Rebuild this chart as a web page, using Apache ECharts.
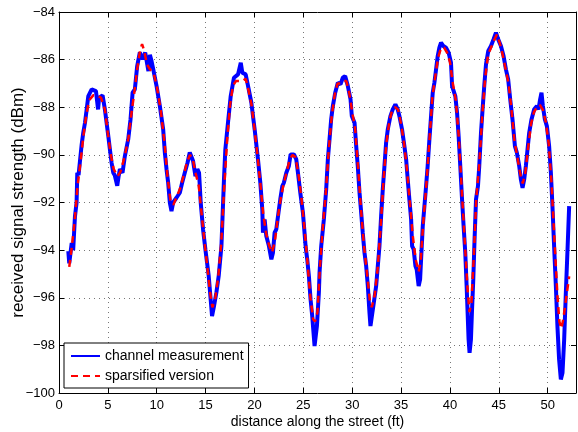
<!DOCTYPE html>
<html>
<head>
<meta charset="utf-8">
<script src="https://cdn.jsdelivr.net/npm/echarts@6/dist/echarts.min.js"></script>
<style>
  html, body { margin: 0; padding: 0; background: #fff; }
  #chart { width: 578px; height: 432px; }
</style>
</head>
<body>
<div id="chart"></div>
<script>
const measX = [0.95, 1.05, 1.3, 1.45, 1.63, 1.8, 1.87, 2.0, 2.15, 2.32, 2.48, 2.66, 2.83, 3.0, 3.34, 3.5, 3.78, 4.0, 4.1, 4.19, 4.46, 4.7, 4.87, 5.04, 5.21, 5.38, 5.55, 5.7, 5.89, 5.96, 6.1, 6.23, 6.5, 6.74, 7.08, 7.32, 7.53, 7.76, 8.0, 8.27, 8.55, 8.82, 9.02, 9.15, 9.3, 9.47, 9.64, 9.98, 10.32, 10.66, 10.83, 11.0, 11.17, 11.34, 11.51, 11.68, 12.02, 12.36, 12.6, 12.87, 13.15, 13.38, 13.72, 13.96, 14.16, 14.33, 14.5, 14.74, 14.98, 15.15, 15.32, 15.49, 15.66, 15.86, 16.1, 16.34, 16.62, 16.88, 17.02, 17.29, 17.57, 17.9, 18.1, 18.32, 18.6, 18.76, 19.1, 19.34, 19.68, 20.02, 20.36, 20.6, 20.8, 20.87, 21.04, 21.21, 21.48, 21.73, 21.89, 22.06, 22.23, 22.5, 22.64, 22.85, 23.01, 23.26, 23.52, 23.7, 24.04, 24.28, 24.45, 24.69, 24.96, 25.23, 25.4, 25.57, 25.74, 25.91, 26.15, 26.39, 26.59, 26.66, 26.83, 27.1, 27.34, 27.51, 27.68, 27.85, 28.02, 28.26, 28.53, 28.8, 29.04, 29.28, 29.55, 29.83, 29.96, 30.24, 30.41, 30.57, 30.75, 30.92, 31.08, 31.26, 31.43, 31.6, 31.77, 31.87, 32.04, 32.21, 32.45, 32.62, 32.79, 32.96, 33.13, 33.3, 33.47, 33.64, 33.91, 34.15, 34.42, 34.66, 34.83, 35.1, 35.34, 35.52, 35.68, 35.85, 36.03, 36.13, 36.29, 36.47, 36.6, 36.8, 36.95, 37.05, 37.22, 37.39, 37.56, 37.72, 37.9, 38.07, 38.24, 38.41, 38.58, 38.75, 38.92, 39.09, 39.33, 39.6, 39.87, 40.11, 40.22, 40.38, 40.55, 40.73, 40.89, 41.06, 41.24, 41.4, 41.57, 41.71, 41.81, 41.91, 42.01, 42.15, 42.25, 42.39, 42.52, 42.67, 42.87, 43.0, 43.18, 43.34, 43.51, 43.69, 43.92, 44.2, 44.46, 44.71, 44.94, 45.22, 45.49, 45.73, 45.96, 46.17, 46.4, 46.65, 46.85, 47.09, 47.26, 47.43, 47.6, 47.77, 47.94, 48.11, 48.35, 48.62, 48.9, 49.06, 49.23, 49.37, 49.51, 49.71, 49.92, 50.15, 50.33, 50.49, 50.66, 50.84, 51.0, 51.17, 51.35, 51.52, 51.69, 51.86, 52.02, 52.2]
const measY = [-94.04, -94.55, -93.7, -94.0, -92.6, -92.0, -90.75, -90.85, -90.9, -89.56, -89.07, -88.65, -88.09, -87.53, -87.25, -87.18, -87.32, -88.09, -87.6, -87.53, -87.5, -88.1, -88.65, -89.2, -89.77, -90.33, -90.75, -90.85, -90.9, -91.3, -90.9, -90.6, -90.75, -90.05, -89.35, -88.5, -87.39, -87.25, -86.27, -85.7, -85.99, -85.7, -85.78, -86.48, -85.8, -86.06, -86.4, -87.1, -87.95, -88.93, -89.9, -90.6, -91.17, -92.0, -92.36, -92.0, -91.8, -91.59, -91.17, -90.75, -90.33, -89.9, -90.26, -90.9, -90.6, -90.75, -92.0, -93.13, -93.97, -94.53, -95.09, -95.93, -96.77, -96.35, -95.79, -95.09, -93.83, -91.03, -89.77, -88.65, -87.53, -86.76, -86.7, -86.62, -86.13, -86.55, -86.62, -87.1, -87.8, -88.93, -90.19, -91.17, -92.29, -93.27, -92.71, -93.41, -93.83, -94.39, -94.11, -93.27, -93.13, -92.29, -91.87, -91.31, -91.17, -90.75, -90.47, -89.98, -89.98, -90.19, -90.75, -91.59, -92.43, -93.83, -94.39, -95.09, -96.07, -96.77, -98.03, -97.19, -95.79, -94.95, -93.83, -92.71, -91.45, -90.19, -89.35, -88.5, -87.95, -87.39, -86.97, -87.04, -86.76, -86.69, -87.1, -87.67, -88.37, -88.65, -89.63, -90.47, -91.59, -92.43, -93.27, -94.11, -94.67, -95.51, -96.63, -97.19, -97.19, -96.21, -95.51, -94.67, -93.83, -92.57, -91.45, -90.47, -89.49, -88.93, -88.37, -88.09, -87.88, -88.09, -88.37, -88.93, -89.63, -90.19, -91.03, -91.87, -92.71, -93.83, -93.97, -94.67, -94.81, -95.51, -95.23, -94.39, -92.99, -92.15, -91.31, -90.47, -89.35, -88.37, -87.39, -86.97, -86.41, -85.85, -85.5, -85.29, -85.43, -85.5, -85.71, -86.13, -87.11, -87.18, -87.53, -88.23, -89.21, -90.47, -91.87, -92.99, -94.11, -95.51, -96.63, -97.75, -98.31, -97.75, -96.63, -95.23, -93.55, -91.87, -91.31, -90.47, -89.07, -88.09, -87.11, -86.2, -85.64, -85.43, -85.15, -84.87, -85.15, -85.43, -85.85, -86.41, -86.83, -87.67, -88.5, -89.63, -89.91, -90.47, -91.03, -91.38, -91.03, -90.47, -89.77, -89.07, -88.5, -88.09, -87.95, -88.09, -87.67, -87.39, -87.95, -88.5, -88.79, -89.63, -90.75, -92.15, -93.83, -95.51, -97.19, -98.59, -99.43, -99.15, -97.75, -95.79, -94.11, -92.15]

// sparsified version (red dashed)
const sparseX = [1.05, 1.3, 1.6, 1.9, 2.2, 2.5, 2.8, 3.1, 3.5, 3.9, 4.3, 4.7, 5.0, 5.3, 5.6, 6.0, 6.3, 6.7, 7.1, 7.4, 7.7, 8.0, 8.3, 8.5, 8.7, 9.0, 9.3, 9.7, 10.0, 10.4, 10.8, 11.1, 11.4, 11.7, 12.0, 12.4, 12.8, 13.1, 13.4, 13.7, 14.0, 14.3, 14.6, 14.9, 15.2, 15.5, 15.7, 16.0, 16.3, 16.6, 16.9, 17.2, 17.5, 17.8, 18.1, 18.5, 18.8, 19.1, 19.4, 19.7, 20.0, 20.3, 20.6, 20.9, 21.2, 21.5, 21.8, 22.1, 22.4, 22.7, 23.0, 23.3, 23.6, 23.9, 24.2, 24.5, 24.8, 25.1, 25.4, 25.7, 26.0, 26.2, 26.45, 26.7, 27.0, 27.3, 27.6, 27.9, 28.2, 28.5, 28.8, 29.1, 29.4, 29.7, 30.0, 30.3, 30.6, 30.9, 31.2, 31.5, 31.8, 32.0, 32.3, 32.6, 32.9, 33.2, 33.5, 33.8, 34.1, 34.4, 34.7, 35.0, 35.3, 35.6, 35.9, 36.2, 36.5, 36.8, 37.0, 37.3, 37.6, 37.9, 38.2, 38.5, 38.8, 39.1, 39.4, 39.7, 40.0, 40.3, 40.6, 40.9, 41.2, 41.5, 41.8, 42.0, 42.2, 42.45, 42.7, 43.0, 43.3, 43.6, 43.9, 44.2, 44.5, 44.8, 45.1, 45.4, 45.7, 46.0, 46.3, 46.6, 46.9, 47.2, 47.45, 47.7, 48.0, 48.3, 48.6, 48.9, 49.2, 49.5, 49.8, 50.1, 50.4, 50.7, 51.0, 51.2, 51.4, 51.6, 51.9, 52.2]
const sparseY = [-94.7, -93.9, -92.8, -91.3, -90.3, -89.2, -88.3, -87.7, -87.5, -87.5, -87.6, -88.1, -89.1, -90.0, -90.6, -90.9, -90.7, -90.1, -89.3, -88.3, -87.4, -86.4, -85.6, -85.35, -85.6, -86.2, -86.4, -86.6, -87.1, -88.1, -89.5, -90.9, -91.9, -92.1, -91.8, -91.4, -90.8, -90.3, -90.0, -90.2, -90.8, -91.3, -92.5, -93.7, -94.8, -95.9, -96.4, -96.0, -95.1, -93.7, -91.4, -89.4, -87.9, -87.1, -86.9, -86.9, -86.9, -86.8, -87.3, -87.9, -88.9, -90.0, -91.2, -92.5, -93.3, -93.8, -94.1, -93.6, -92.6, -91.8, -91.2, -90.7, -90.2, -90.0, -90.1, -90.8, -91.8, -93.0, -94.4, -95.9, -96.9, -97.0, -96.6, -94.7, -93.0, -91.6, -89.8, -88.4, -87.5, -87.0, -87.0, -86.9, -86.9, -87.4, -88.2, -88.9, -90.5, -92.3, -93.8, -94.9, -96.1, -96.4, -95.9, -94.8, -93.1, -91.1, -89.5, -88.6, -88.1, -88.0, -88.1, -88.7, -89.5, -90.6, -92.0, -93.4, -94.4, -94.9, -94.5, -92.7, -91.2, -89.4, -87.6, -86.7, -85.9, -85.5, -85.5, -85.7, -86.1, -87.0, -87.7, -89.2, -91.4, -93.5, -95.6, -96.6, -96.2, -94.2, -91.8, -90.4, -88.4, -86.8, -85.8, -85.5, -85.2, -84.95, -85.3, -85.8, -86.4, -87.0, -88.1, -89.4, -90.1, -90.8, -91.2, -90.8, -89.7, -88.7, -88.2, -88.0, -87.9, -88.1, -88.6, -89.5, -91.2, -93.6, -95.9, -97.0, -97.3, -96.9, -96.0, -95.1]

const xMin = 0
const xMax = 52.9
const yMin = -100
const yMax = -84

const font = 'Liberation Sans, Arial, Helvetica, sans-serif'
const minus = v => String(v).replace('-', '\u2212')

const chart = echarts.init(document.getElementById('chart'), null, { renderer: 'canvas' })

// top / right axes only draw the box and inward ticks
const boxAxis = {
  axisLine: { show: true, onZero: false, lineStyle: { color: '#000', width: 1 } },
  axisTick: { show: true, inside: true, length: 5, lineStyle: { color: '#000' } },
  axisLabel: { show: false },
  splitLine: { show: false }
}

chart.setOption({
  backgroundColor: '#fff',
  animation: false,
  grid: { left: 59, right: 2, top: 12, bottom: 39, containLabel: false, outerBoundsMode: 'none' },
  legend: {
    left: 64,
    top: 343,
    orient: 'vertical',
    backgroundColor: '#fff',
    borderColor: '#000',
    borderWidth: 1,
    borderRadius: 0,
    padding: [6, 5, 5, 6],
    itemGap: 6,
    itemWidth: 29,
    itemHeight: 14,
    itemStyle: { opacity: 0 },
    textStyle: { fontFamily: font, fontSize: 14, color: '#000' },
    data: ['channel measurement', 'sparsified version']
  },
  xAxis: [{
    type: 'value',
    min: xMin,
    max: xMax,
    interval: 5,
    position: 'bottom',
    name: 'distance along the street (ft)',
    nameLocation: 'middle',
    nameGap: 22,
    nameMoveOverlap: false,
    nameTextStyle: { fontFamily: font, fontSize: 14, color: '#000' },
    axisLine: { show: true, onZero: false, lineStyle: { color: '#000', width: 1 } },
    axisTick: { show: true, inside: true, length: 5, lineStyle: { color: '#000' } },
    axisLabel: {
      fontFamily: font, fontSize: 13, color: '#000', margin: 6,
      showMaxLabel: false,
      formatter: v => (v % 5 === 0 ? minus(v) : '')
    },
    splitLine: { show: true, lineStyle: { color: '#777', type: [1, 4], width: 1 } }
  }, Object.assign({
    type: 'value', min: xMin, max: xMax, interval: 5, position: 'top'
  }, boxAxis)],
  yAxis: [{
    type: 'value',
    min: yMin,
    max: yMax,
    interval: 2,
    position: 'left',
    name: 'received signal strength (dBm)',
    nameLocation: 'middle',
    nameRotate: 90,
    nameGap: 32,
    nameMoveOverlap: false,
    nameTextStyle: { fontFamily: font, fontSize: 17, color: '#000' },
    axisLine: { show: true, onZero: false, lineStyle: { color: '#000', width: 1 } },
    axisTick: { show: true, inside: true, length: 5, lineStyle: { color: '#000' } },
    axisLabel: { fontFamily: font, fontSize: 13, color: '#000', margin: 4, formatter: minus },
    splitLine: { show: true, lineStyle: { color: '#777', type: [1, 4], width: 1 } }
  }, Object.assign({
    type: 'value', min: yMin, max: yMax, interval: 2, position: 'right'
  }, boxAxis)],
  series: [{
    name: 'channel measurement',
    type: 'line',
    data: measX.map((x, i) => [x, measY[i]]),
    showSymbol: false,
    symbol: 'none',
    lineStyle: { color: '#0000ff', width: 4 },
    itemStyle: { color: '#0000ff' },
    z: 2
  }, {
    name: 'sparsified version',
    type: 'line',
    data: sparseX.map((x, i) => [x, sparseY[i]]),
    showSymbol: false,
    symbol: 'none',
    lineStyle: { color: '#ff0000', width: 2.5, type: [7, 5] },
    itemStyle: { color: '#ff0000' },
    z: 3
  }]
})
</script>
</body>
</html>
